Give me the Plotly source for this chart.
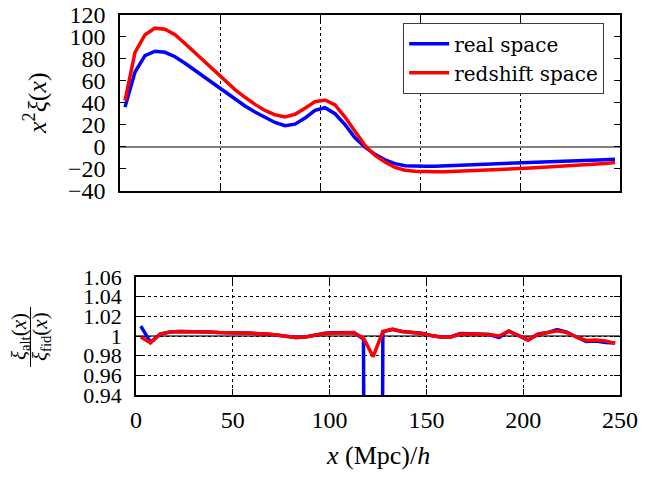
import plotly.graph_objects as go

W, H = 662, 479

# separation x in Mpc/h
x = [2.5 + 5 * k for k in range(50)]

# x^2 xi(x), real space
xi_real = [36, 68, 83, 87, 86, 82, 76, 69.5, 63, 56.5,
           49.5, 43, 37, 31.5, 26.5, 22, 19, 20.5, 26, 33,
           35.5, 30, 20, 8, -0.5, -7, -12, -15.5, -17.5, -18,
           -18, -17.8, -17.5, -17.2, -16.9, -16.6, -16.3, -16, -15.6, -15.2,
           -14.9, -14.5, -14.2, -13.8, -13.4, -13, -12.6, -12.2, -11.9, -11.5]

# x^2 xi(x), redshift space
xi_red = [42, 86, 102, 108, 107, 102, 94, 85.5, 77, 68,
          60, 52, 45, 38.5, 33, 29, 27, 29.5, 35, 41,
          42.5, 38, 27, 14, 1, -8, -14, -19, -21.5, -22.5,
          -23, -23, -22.8, -22.5, -22.2, -21.8, -21.4, -21, -20.6, -20.2,
          -19.8, -19.3, -18.8, -18.3, -17.8, -17.2, -16.6, -16, -15.3, -14.5]

# ratio xi_alt / xi_fid
ratio_real = [1.010, 0.9935, 1.002, 1.004, 1.0045, 1.0045, 1.0042, 1.004, 1.0035, 1.003,
              1.003, 1.003, 1.0028, 1.002, 1.001, 0.9995, 0.9985, 0.999, 1.0005, 1.0028,
              1.0033, 1.0035, 1.0035, 0.997, -2.0, 1.0045, 1.0065, 1.0045, 1.0037, 1.0027,
              1.0005, 0.999, 0.999, 1.0025, 1.0022, 1.002, 1.0015, 0.9985, 1.005, 1.0005,
              0.996, 1.0018, 1.0035, 1.0065, 1.004, 0.999, 0.9945, 0.995, 0.9935, 0.993]

ratio_red = [0.999, 0.993, 1.002, 1.004, 1.0045, 1.0045, 1.0042, 1.004, 1.0035, 1.003,
             1.003, 1.003, 1.0028, 1.002, 1.001, 0.9995, 0.9985, 0.999, 1.0005, 1.0025,
             1.003, 1.0033, 1.0033, 0.998, 0.979, 1.0045, 1.007, 1.0045, 1.0035, 1.0025,
             1.0005, 0.999, 0.999, 1.002, 1.002, 1.0018, 1.0015, 1.0, 1.005, 1.0005,
             0.996, 1.0015, 1.003, 1.0053, 1.0035, 0.999, 0.9955, 0.996, 0.995, 0.9925]

x_ticks = [0, 50, 100, 150, 200, 250]
x_ticktext = ["0", "50", "100", "150", "200", "250"]
top_ticks = [120, 100, 80, 60, 40, 20, 0, -20, -40]
top_ticktext = ["120", "100", "80", "60", "40", "20", "0", "\u221220", "\u221240"]
bot_ticks = [1.06, 1.04, 1.02, 1.0, 0.98, 0.96, 0.94]
bot_ticktext = ["1.06", "1.04", "1.02", "1", "0.98", "0.96", "0.94"]

FONT = "Liberation Serif"
BLUE = "rgb(0,0,255)"
RED = "rgb(255,0,0)"

fig = go.Figure()
fig.add_trace(go.Scatter(x=x, y=xi_real, mode="lines", name="real space",
                         line=dict(color=BLUE, width=3.5), xaxis="x", yaxis="y"))
fig.add_trace(go.Scatter(x=x, y=xi_red, mode="lines", name="redshift space",
                         line=dict(color=RED, width=3.5), xaxis="x", yaxis="y"))
fig.add_trace(go.Scatter(x=x, y=ratio_real, mode="lines", showlegend=False,
                         line=dict(color=BLUE, width=3.5), xaxis="x2", yaxis="y2"))
fig.add_trace(go.Scatter(x=x, y=ratio_red, mode="lines", showlegend=False,
                         line=dict(color=RED, width=3.5), xaxis="x2", yaxis="y2"))

def px_x(p):
    return p / W

def px_y(p):
    return (H - p) / H

axis_common = dict(showline=True, linecolor="black", linewidth=1.5, mirror="allticks",
                   ticks="inside", ticklen=6, tickcolor="black", tickwidth=1,
                   automargin=False)

def tfont(size):
    return dict(family=FONT, size=size, color="black")

fig.update_layout(
    width=W, height=H,
    margin=dict(l=0, r=0, t=0, b=0, autoexpand=False),
    paper_bgcolor="white", plot_bgcolor="white",
    font=dict(family=FONT, color="black"),
    xaxis=dict(domain=[px_x(120), px_x(620)], range=[0, 250], anchor="y",
               tickvals=x_ticks, showticklabels=False, tickfont=tfont(24),
               showgrid=True, gridcolor="black", griddash="dot", gridwidth=1,
               zeroline=False, **axis_common),
    yaxis=dict(domain=[px_y(190.5), px_y(15)], range=[-40, 120], anchor="x",
               tickvals=top_ticks, ticktext=top_ticktext, ticklabelstandoff=8,
               tickfont=tfont(24),
               showgrid=False, zeroline=True, zerolinecolor="rgb(128,128,128)",
               zerolinewidth=1.5, **axis_common),
    xaxis2=dict(domain=[px_x(136), px_x(620)], range=[0, 250], anchor="y2",
                tickvals=x_ticks, ticktext=x_ticktext, ticklabelstandoff=2,
                tickfont=tfont(24),
                showgrid=True, gridcolor="black", griddash="dot", gridwidth=1,
                zeroline=False, **axis_common),
    yaxis2=dict(domain=[px_y(395), px_y(277)], range=[0.94, 1.06], anchor="x2",
                tickvals=bot_ticks, ticktext=bot_ticktext, ticklabelstandoff=8,
                tickfont=tfont(22),
                showgrid=True, gridcolor="black", griddash="dot", gridwidth=1,
                zeroline=False, **axis_common),
    legend=dict(x=px_x(604), y=px_y(23), xanchor="right", yanchor="top",
                bgcolor="white", bordercolor="rgb(60,60,60)", borderwidth=1.2,
                font=dict(family="DejaVu Serif", size=20, color="black"),
                itemwidth=40, tracegroupgap=0),
)

# reference line at ratio 1
fig.add_shape(type="line", xref="x2", yref="y2", x0=0, x1=250, y0=1, y1=1,
              line=dict(color="rgb(60,60,60)", width=1.5), layer="below")

# y-axis title, top panel
fig.add_annotation(text="<i>x</i><sup>2</sup><i>\u03be</i>(<i>x</i>)", xref="paper", yref="paper",
                   x=px_x(36), y=px_y(103), xanchor="center", yanchor="middle",
                   textangle=-90, showarrow=False,
                   font=dict(family=FONT, size=26, color="black"))

# fraction label, bottom panel
fig.add_annotation(text="<i>\u03be</i><sub>alt</sub>(<i>x</i>)", xref="paper", yref="paper",
                   x=px_x(20), y=px_y(337), xanchor="center", yanchor="middle",
                   textangle=-90, showarrow=False,
                   font=dict(family=FONT, size=21, color="black"))
fig.add_annotation(text="<i>\u03be</i><sub>fid</sub>(<i>x</i>)", xref="paper", yref="paper",
                   x=px_x(41), y=px_y(337), xanchor="center", yanchor="middle",
                   textangle=-90, showarrow=False,
                   font=dict(family=FONT, size=21, color="black"))
fig.add_shape(type="line", xref="paper", yref="paper",
              x0=px_x(30.5), x1=px_x(30.5), y0=px_y(307), y1=px_y(367),
              line=dict(color="black", width=1))

# x-axis title
fig.add_annotation(text="<i>x</i> (Mpc)/<i>h</i>", xref="paper", yref="paper",
                   x=px_x(378), y=px_y(455), xanchor="center", yanchor="middle",
                   showarrow=False,
                   font=dict(family=FONT, size=26, color="black"))

fig.write_html("out.html")
